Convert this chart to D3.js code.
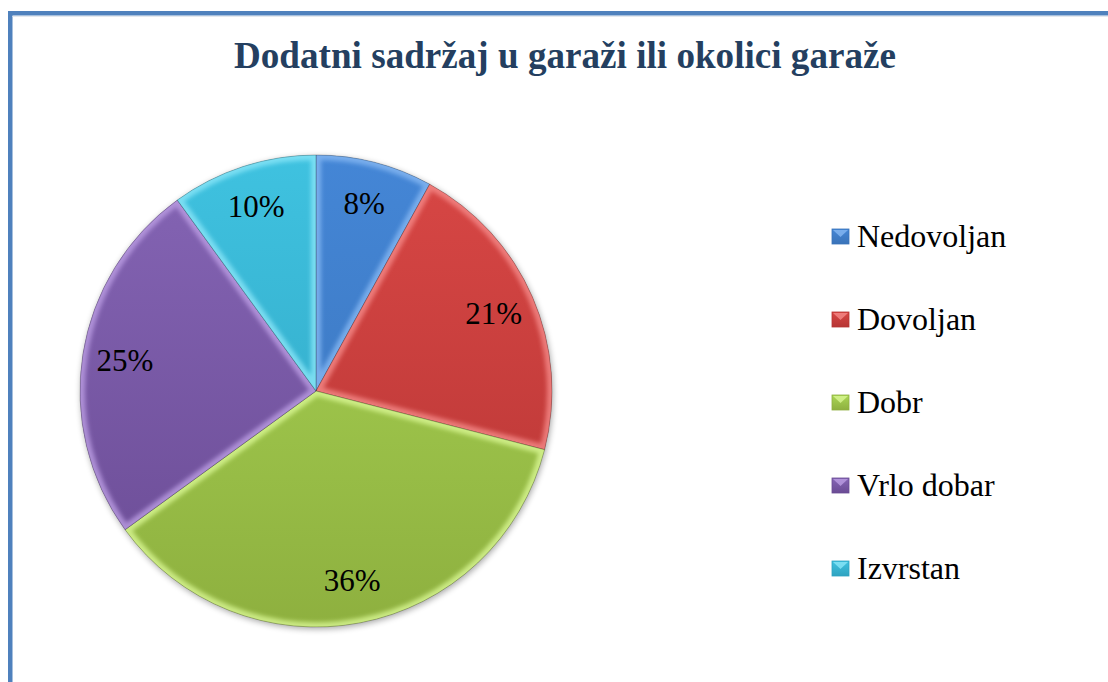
<!DOCTYPE html>
<html>
<head>
<meta charset="utf-8">
<script src="https://cdn.jsdelivr.net/npm/d3@7"></script>
<style>
  html, body { margin: 0; padding: 0; background: #fff; }
  svg { display: block; }
  text { font-family: "Liberation Serif", "Times New Roman", serif; }
</style>
</head>
<body>
<svg id="chart" width="1108" height="682"></svg>
<script>
const TITLE = "Dodatni sadržaj u garaži ili okolici garaže";
const CATEGORIES = ["Nedovoljan", "Dovoljan", "Dobr", "Vrlo dobar", "Izvrstan"];
const VALUES = [8, 21, 36, 25, 10];
const LABELS = ["8%", "21%", "36%", "25%", "10%"];
// top / bottom of each slice's gradient, plus its bevel highlight
const COLORS_TOP = ["#4486d6", "#d84745", "#aad655", "#8565b5", "#3fc2e0"];
const COLORS_BOTTOM = ["#3a73b8", "#b63534", "#8eb03f", "#6a4b94", "#2fa3c0"];
const COLORS_EDGE = ["#86b8f2", "#f58a88", "#daf893", "#bb9de4", "#8ae6f8"];

const svg = d3.select("#chart");
const defs = svg.append("defs");

// frame
svg.append("rect")
    .attr("x", 10.25).attr("y", 13.25)
    .attr("width", 1200).attr("height", 800)
    .attr("fill", "none")
    .attr("stroke", "#4f81bd")
    .attr("stroke-width", 4.5);
svg.append("line")
    .attr("x1", 12.5).attr("x2", 1108).attr("y1", 16.5).attr("y2", 16.5)
    .attr("stroke", "#e4e8ee").attr("stroke-width", 1);

// title
svg.append("text")
    .attr("x", 565).attr("y", 68)
    .attr("text-anchor", "middle")
    .style("font-weight", "bold")
    .style("font-size", "37px")
    .attr("fill", "#243f60")
    .attr("textLength", 662)
    .attr("lengthAdjust", "spacingAndGlyphs")
    .text(TITLE);

const cx = 316, cy = 391, radius = 236;

const pie = d3.pie().sort(null).value(d => d)(VALUES);
const arc = d3.arc().innerRadius(0).outerRadius(radius);
const labelArc = d3.arc().innerRadius(radius * 0.82).outerRadius(radius * 0.82);

// gradients
CATEGORIES.forEach((c, i) => {
    const g = defs.append("linearGradient")
        .attr("id", "grad" + i)
        .attr("gradientUnits", "userSpaceOnUse")
        .attr("x1", 0).attr("y1", -radius).attr("x2", 0).attr("y2", radius);
    g.append("stop").attr("offset", "0%").attr("stop-color", COLORS_TOP[i]);
    g.append("stop").attr("offset", "100%").attr("stop-color", COLORS_BOTTOM[i]);

    const lg = defs.append("linearGradient")
        .attr("id", "lgrad" + i)
        .attr("x1", 0).attr("y1", 0).attr("x2", 0).attr("y2", 1);
    lg.append("stop").attr("offset", "0%").attr("stop-color", COLORS_TOP[i]);
    lg.append("stop").attr("offset", "100%").attr("stop-color", COLORS_BOTTOM[i]);
});

const blur = defs.append("filter").attr("id", "bevelBlur")
    .attr("x", "-10%").attr("y", "-10%").attr("width", "120%").attr("height", "120%");
blur.append("feGaussianBlur").attr("stdDeviation", 2);

const shadow = defs.append("filter").attr("id", "shadow")
    .attr("x", "-20%").attr("y", "-20%").attr("width", "140%").attr("height", "140%");
shadow.append("feGaussianBlur").attr("in", "SourceAlpha").attr("stdDeviation", 3);
shadow.append("feOffset").attr("dx", 1).attr("dy", 2).attr("result", "b");
shadow.append("feComponentTransfer").append("feFuncA").attr("type", "linear").attr("slope", 0.35);

const pieG = svg.append("g").attr("transform", `translate(${cx},${cy})`);

// soft shadow behind the pie
pieG.append("circle").attr("r", radius).attr("fill", "#000").attr("filter", "url(#shadow)");

pie.forEach((d, i) => {
    defs.append("clipPath").attr("id", "clip" + i)
        .append("path").attr("d", arc(d));
});

const slices = pieG.selectAll("g.slice")
    .data(pie)
    .enter()
    .append("g")
    .classed("slice", true);

slices.append("path")
    .attr("d", arc)
    .attr("fill", (d, i) => `url(#grad${i})`);

// bevel highlight along the slice edges
slices.append("g")
    .attr("clip-path", (d, i) => `url(#clip${i})`)
    .append("path")
    .attr("d", arc)
    .attr("fill", "none")
    .attr("stroke", (d, i) => COLORS_EDGE[i])
    .attr("stroke-width", 10)
    .attr("stroke-opacity", 0.8)
    .attr("filter", "url(#bevelBlur)");

slices.append("path")
    .attr("d", arc)
    .attr("fill", "none")
    .attr("stroke", "rgba(0,0,0,0.3)")
    .attr("stroke-width", 0.8);

// data labels
pieG.selectAll("text.label")
    .data(pie)
    .enter()
    .append("text")
    .classed("label", true)
    .attr("x", d => labelArc.centroid(d)[0])
    .attr("y", d => labelArc.centroid(d)[1] + 10)
    .attr("text-anchor", "middle")
    .style("font-size", "31px")
    .attr("fill", "#000")
    .text((d, i) => LABELS[i]);

// legend
const legendY = d3.scalePoint()
    .domain(CATEGORIES)
    .range([247, 579]);

const legend = svg.selectAll("g.legend")
    .data(CATEGORIES)
    .enter()
    .append("g")
    .classed("legend", true)
    .attr("transform", d => `translate(832,${legendY(d)})`);

legend.append("rect")
    .attr("x", 0).attr("y", -18)
    .attr("width", 17).attr("height", 15)
    .attr("fill", (d, i) => `url(#lgrad${i})`)
    .attr("stroke", (d, i) => COLORS_BOTTOM[i])
    .attr("stroke-width", 0.8);

legend.append("path")
    .attr("d", "M1,-17 L8.5,-10 L16,-17 Z")
    .attr("fill", (d, i) => COLORS_EDGE[i])
    .attr("opacity", 0.8);

legend.append("text")
    .attr("x", 25).attr("y", 0)
    .style("font-size", "32px")
    .attr("fill", "#000")
    .text(d => d);
</script>
</body>
</html>
